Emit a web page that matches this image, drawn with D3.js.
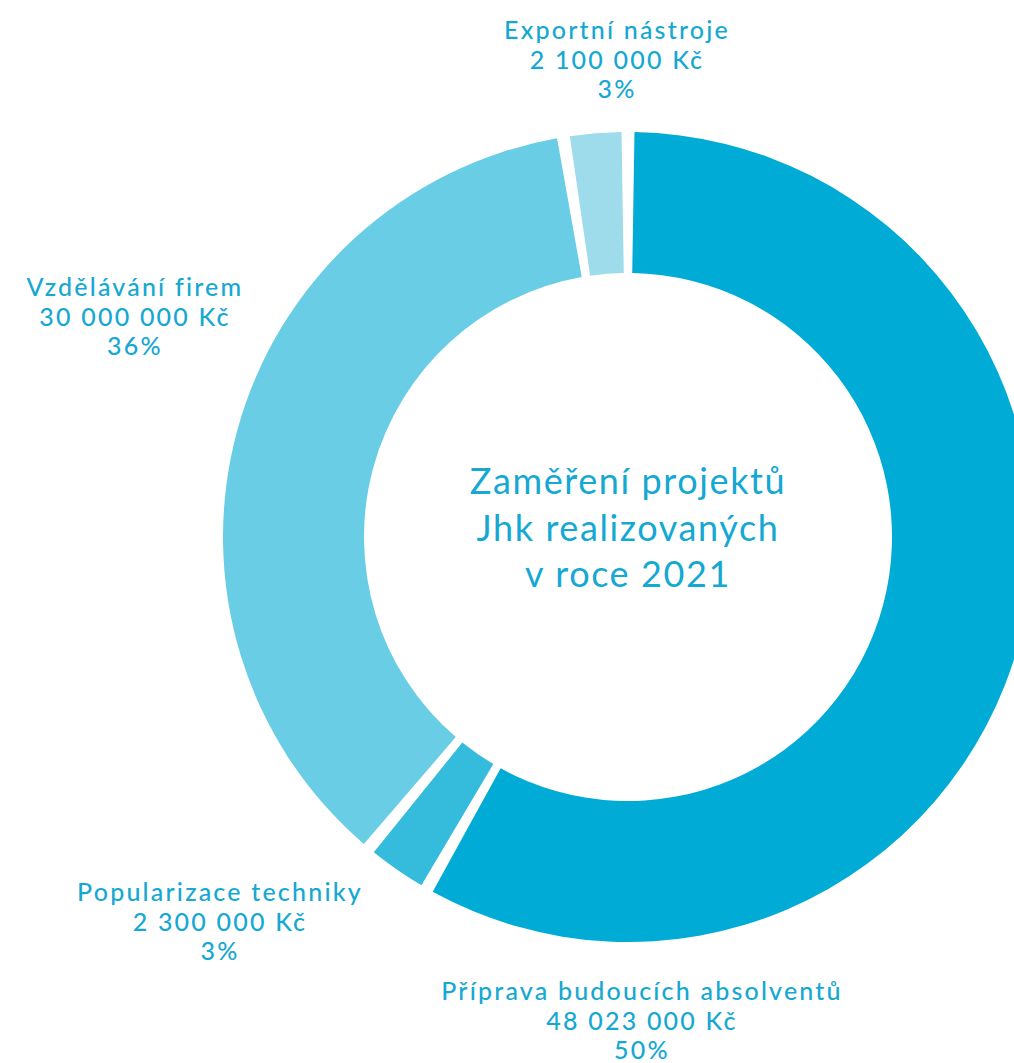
<!DOCTYPE html>
<html>
<head>
<meta charset="utf-8">
<script src="https://cdn.jsdelivr.net/npm/d3@7"></script>
<style>
  body { margin: 0; background: #fff; }
  text { fill: #14a8d3; font-family: Lato, sans-serif; }
</style>
</head>
<body>
<div class="chart"></div>
<script>
// chart data
var categories = ["Příprava budoucích absolventů", "Popularizace techniky", "Vzdělávání firem", "Exportní nástroje"];
var amounts = [48023000, 2300000, 30000000, 2100000];
var amountLabels = ["48 023 000 Kč", "2 300 000 Kč", "30 000 000 Kč", "2 100 000 Kč"];
var percentLabels = ["50%", "3%", "36%", "3%"];
var colors = ["#00acd5", "#35bcdd", "#69cde5", "#9edcec"];
var titleLines = ["Zaměření projektů", "Jhk realizovaných", "v roce 2021"];

var svgWidth = 1014;
var svgHeight = 1063;

var cx = 628, cy = 537;
var outerR = 405, innerR = 264;
var gap = 0.032; // angular gap between slices

// label anchors (centre x, first baseline)
var labelPos = [
    { x: 642, y: 1000 },
    { x: 220, y: 901 },
    { x: 135, y: 296 },
    { x: 617, y: 39 }
];

var svg = d3.select(".chart")
    .append("svg")
    .attr("width", svgWidth)
    .attr("height", svgHeight);

var chartGroup = svg.append("g")
    .attr("transform", `translate(${cx}, ${cy})`);

var pie = d3.pie().sort(null).value(d => d);

var arc = d3.arc()
    .innerRadius(innerR)
    .outerRadius(outerR)
    .startAngle(d => d.startAngle + gap / 2)
    .endAngle(d => d.endAngle - gap / 2);

chartGroup.selectAll("path")
    .data(pie(amounts))
    .enter()
    .append("path")
    .attr("d", arc)
    .attr("fill", (d, i) => colors[i]);

// centre title
chartGroup.append("text")
    .attr("text-anchor", "middle")
    .attr("font-size", 36)
    .attr("letter-spacing", 1.6)
    .selectAll("tspan")
    .data(titleLines)
    .enter()
    .append("tspan")
    .attr("x", 0)
    .attr("y", (d, i) => -43 + i * 46.5)
    .text(d => d);

// slice labels
var labels = svg.selectAll(".slice-label")
    .data(categories)
    .enter()
    .append("text")
    .attr("class", "slice-label")
    .attr("text-anchor", "middle")
    .attr("font-size", 25)
    .attr("font-weight", 500)
    .attr("letter-spacing", 2.2);

labels.each(function(d, i) {
    var lines = [d, amountLabels[i], percentLabels[i]];
    d3.select(this).selectAll("tspan")
        .data(lines)
        .enter()
        .append("tspan")
        .attr("x", labelPos[i].x)
        .attr("y", (l, j) => labelPos[i].y + j * 29.5)
        .text(l => l);
});
</script>
</body>
</html>
